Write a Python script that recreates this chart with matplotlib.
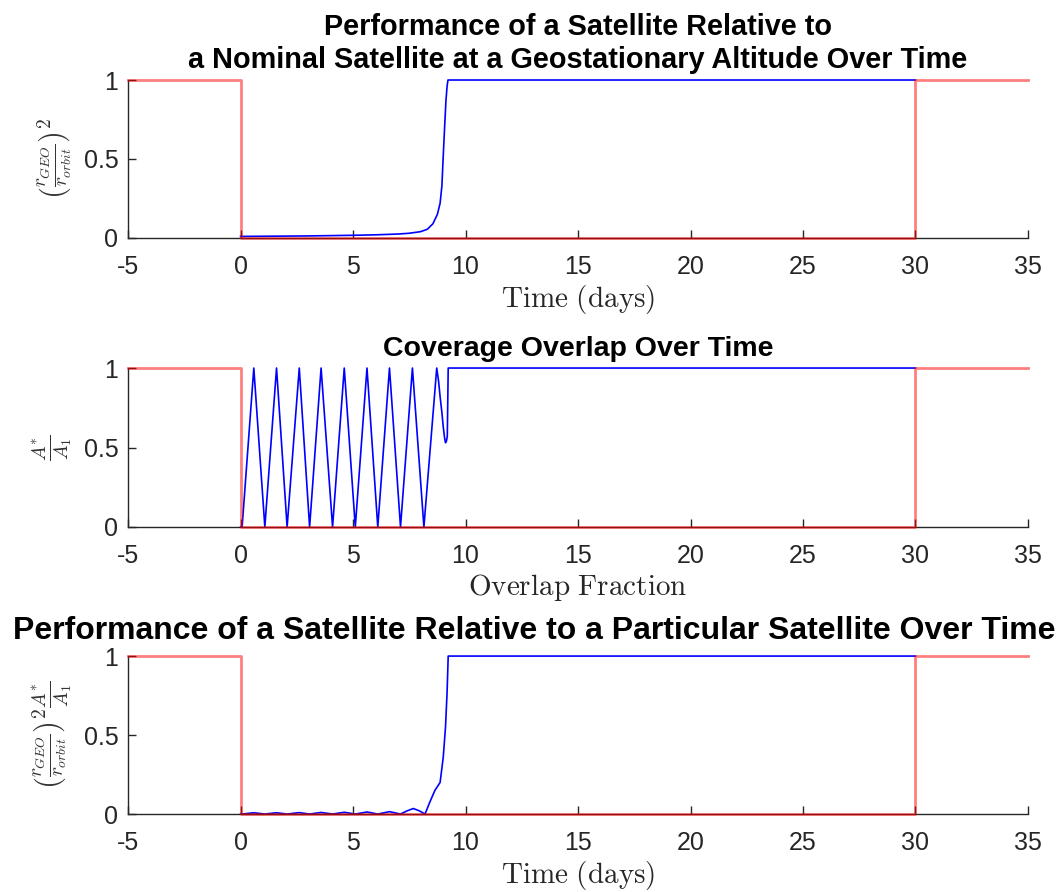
import numpy as np
import matplotlib
matplotlib.use("Agg")
import matplotlib.pyplot as plt

plt.rcParams["mathtext.fontset"] = "cm"
plt.rcParams["font.family"] = ["Liberation Sans", "DejaVu Sans"]
plt.rcParams["axes.unicode_minus"] = False

# reference step (red)
ref_t = [-5, 0, 0, 30, 30, 35]
ref_v = [1, 1, 0, 0, 1, 1]

# (r_GEO / r_orbit)^2
ratio_t = [0, 1, 2, 3, 4, 5, 6, 7, 7.5, 8, 8.3, 8.55, 8.75, 8.87, 8.95,
           9.0, 9.07, 9.13, 9.18, 9.22, 30]
ratio_v = [0.01, 0.011, 0.012, 0.013, 0.015, 0.017, 0.02, 0.025, 0.03, 0.04,
           0.055, 0.09, 0.15, 0.22, 0.33, 0.49, 0.7, 0.87, 0.96, 1.0, 1.0]

# overlap fraction A*/A1
overlap_t = [0, 0.07, 0.59, 1.08, 1.60, 2.07, 2.61, 3.07, 3.58, 4.09, 4.61,
             5.10, 5.62, 6.10, 6.62, 7.11, 7.64, 8.15, 8.72, 8.8, 8.87, 8.95,
             9.01, 9.07, 9.11, 9.15, 9.19, 9.23, 30]
overlap_v = [0, 0, 1, 0, 1, 0, 1, 0, 1, 0, 1,
             0, 1, 0, 1, 0, 1, 0, 1, 0.92, 0.82, 0.72,
             0.63, 0.56, 0.53, 0.54, 0.57, 1.0, 1.0]

# product of the two
prod_t = [0, 0.07, 0.59, 1.08, 1.60, 2.07, 2.61, 3.07, 3.58, 4.09, 4.61,
          5.10, 5.62, 6.10, 6.62, 7.11, 7.4, 7.68, 7.95, 8.2, 8.42, 8.64,
          8.87, 9.01, 9.11, 9.18, 9.23, 30]
prod_v = [0, 0, 0.008, 0, 0.008, 0, 0.009, 0, 0.01, 0, 0.011,
          0, 0.013, 0, 0.015, 0, 0.02, 0.035, 0.02, 0, 0.078, 0.15,
          0.20, 0.36, 0.55, 0.77, 1.0, 1.0]

fig = plt.figure(figsize=(10.6, 8.92), dpi=100)

positions = [[0.1208, 0.7332, 0.849, 0.1771],
             [0.1208, 0.4092, 0.849, 0.1782],
             [0.1208, 0.0874, 0.849, 0.1771]]
series = [(ratio_t, ratio_v), (overlap_t, overlap_v), (prod_t, prod_v)]
titles = ["Performance of a Satellite Relative to\n"
          "a Nominal Satellite at a Geostationary Altitude Over Time",
          "Coverage Overlap Over Time",
          "Performance of a Satellite Relative to a Particular Satellite Over Time"]
title_sizes = [20.8, 20.5, 23]
title_x = [0.5, 0.5, 0.451]
title_pads = [9, 9, 12]
ylabels = [r"$\left(\frac{r_{GEO}}{r_{orbit}}\right)^2$",
           r"$\frac{A^{*}}{A_1}$",
           r"$\left(\frac{r_{GEO}}{r_{orbit}}\right)^2\frac{A^{*}}{A_1}$"]
xlabels = [r"$\mathrm{Time\ (days)}$", r"$\mathrm{Overlap\ Fraction}$",
           r"$\mathrm{Time\ (days)}$"]

axis_col = "#262626"
for i, pos in enumerate(positions):
    t, v = series[i]
    ax = fig.add_axes(pos)
    ax.plot(t, v, color="#0000ff", lw=1.2, clip_on=False, zorder=2)
    ax.plot(ref_t, ref_v, color="#ff0000", alpha=0.5, lw=2.0, clip_on=False, zorder=3)
    ax.set_xlim(-5, 35)
    ax.set_ylim(0, 1)
    ax.set_xticks(np.arange(-5, 36, 5))
    ax.set_yticks([0, 0.5, 1])
    ax.set_yticklabels(["0", "0.5", "1"])
    ax.spines["top"].set_visible(False)
    ax.spines["right"].set_visible(False)
    for s in ["left", "bottom"]:
        ax.spines[s].set_color(axis_col)
        ax.spines[s].set_linewidth(1.0)
    ax.tick_params(direction="in", length=6, width=1.0, colors=axis_col,
                   labelsize=18, labelcolor=axis_col)
    ax.tick_params(axis="x", pad=12)
    ax.tick_params(axis="y", pad=7)
    ax.set_title(titles[i], fontsize=title_sizes[i], fontweight="bold",
                 pad=title_pads[i], linespacing=1.2, x=title_x[i])
    ax.set_xlabel(xlabels[i], fontsize=21, labelpad=3, color=axis_col)
    ax.set_ylabel(ylabels[i], fontsize=20, color="#333333", labelpad=7)

fig.savefig("out.png", dpi=100)
